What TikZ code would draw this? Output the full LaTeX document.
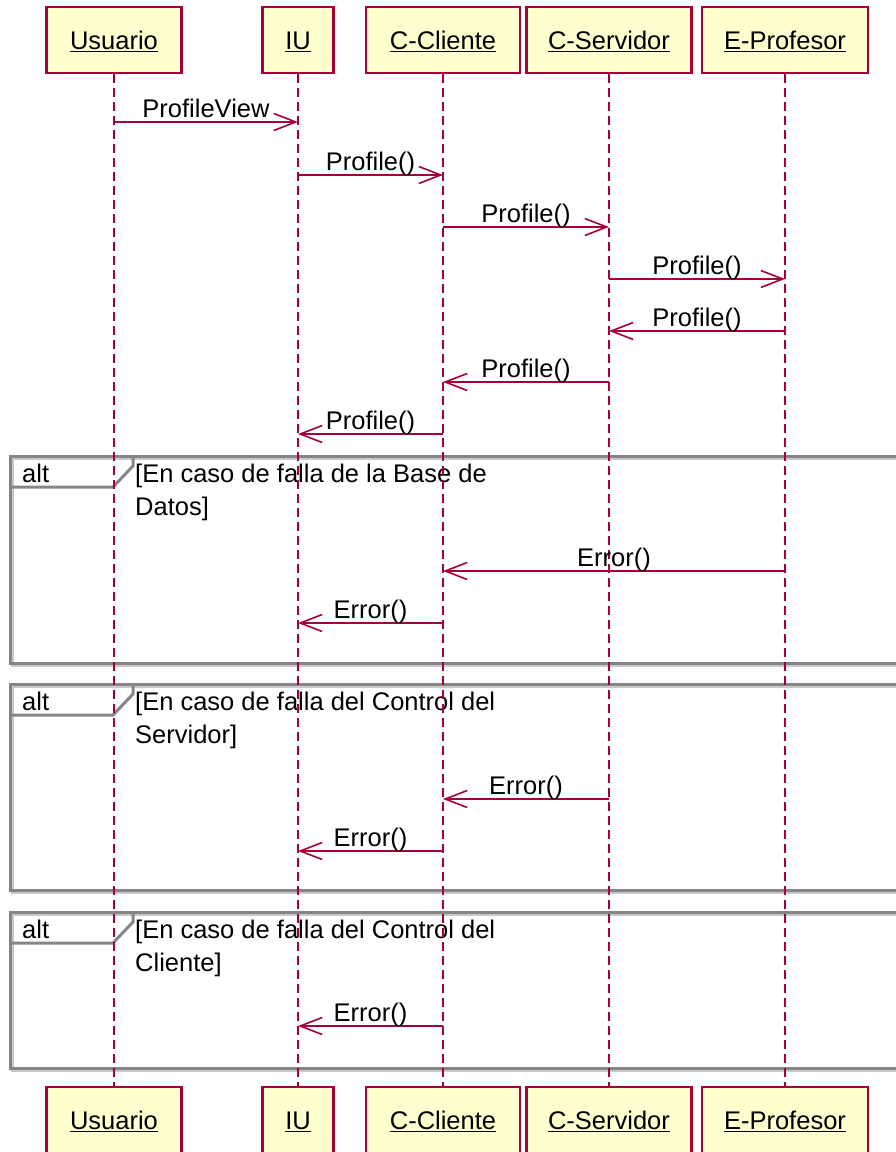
\documentclass[tikz,border=0pt]{standalone}
\usepackage{fontspec}
\setmainfont{Liberation Sans}
\usetikzlibrary{arrows.meta,positioning,calc}
\definecolor{umlred}{HTML}{A80036}
\definecolor{umlfill}{HTML}{FEFECE}
\definecolor{framegray}{HTML}{858585}
\definecolor{shadowgray}{HTML}{C8C8C8}

\begin{document}
\begin{tikzpicture}[x=1pt,y=-1pt,
  every node/.style={font=\fontsize{25.5}{30}\selectfont},
  actor/.style={rectangle,draw=umlred,fill=umlfill,line width=2.5pt,minimum height=66pt,
    inner sep=0pt,text height=19pt,text depth=0pt},
  life/.style={umlred,line width=1.8pt,dash pattern=on 9pt off 5pt},
  msg/.style={umlred,line width=1.6pt,-{Straight Barb[length=22pt,width=17pt]}},
  lbl/.style={anchor=base,yshift=5pt,inner sep=0pt,text=black},
  frm/.style={framegray,line width=3pt},
  frmshadow/.style={shadowgray,line width=3pt},
  cond/.style={anchor=base west,inner sep=0pt}
]
\useasboundingbox (0,0) rectangle (895,1152);

% alt frames (drawn first, lifelines go over them)
\foreach \i/\t/\b/\ca/\cb in {1/456/663/{[En caso de falla de la Base de}/{Datos]},
  2/684/890/{[En caso de falla del Control del}/{Servidor]},
  3/912/1068/{[En caso de falla del Control del}/{Cliente]}} {
  \draw[frmshadow,shift={(2,2)}] (10,\t) rectangle (915,\b);
  \draw[frm] (10,\t) rectangle (915,\b);
  \draw[frm] (10,\t+31) -- (113,\t+31) -- (133,\t+10) -- (133,\t);
  \node[cond] (alt\i) at (22,\t+26) {alt};
  \node[cond] (cnd\i) at (135,\t+26) {\ca};
  \node[cond] (cnd\i b) at (135,\t+59) {\cb};
}

% participants, top and bottom, with lifelines
\foreach \n/\x/\w/\t in {usr/114/135/Usuario, iu/298/71/IU, cc/443/154/C-Cliente,
  cs/609/165/C-Servidor, ep/785/166/E-Profesor} {
  \node[actor,minimum width=\w pt] (\n) at (\x,40) {\underline{\t}};
  \node[actor,minimum width=\w pt] (\n-b) at (\x,1120) {\underline{\t}};
  \draw[life] (\n.south) -- (\n-b.north);
}

% messages
\foreach \a/\b/\y/\t [count=\i] in {usr/iu/122/ProfileView, iu/cc/175/Profile(),
  cc/cs/227/Profile(), cs/ep/279/Profile(), ep/cs/331/Profile(), cs/cc/382/Profile(),
  cc/iu/434/Profile(), ep/cc/571/Error(), cc/iu/623/Error(), cs/cc/799/Error(),
  cc/iu/851/Error(), cc/iu/1026/Error()}
  \draw[msg] (\a |- 0,\y) -- node[lbl] (m\i) {\t} (\b |- 0,\y);
\end{tikzpicture}
\end{document}
